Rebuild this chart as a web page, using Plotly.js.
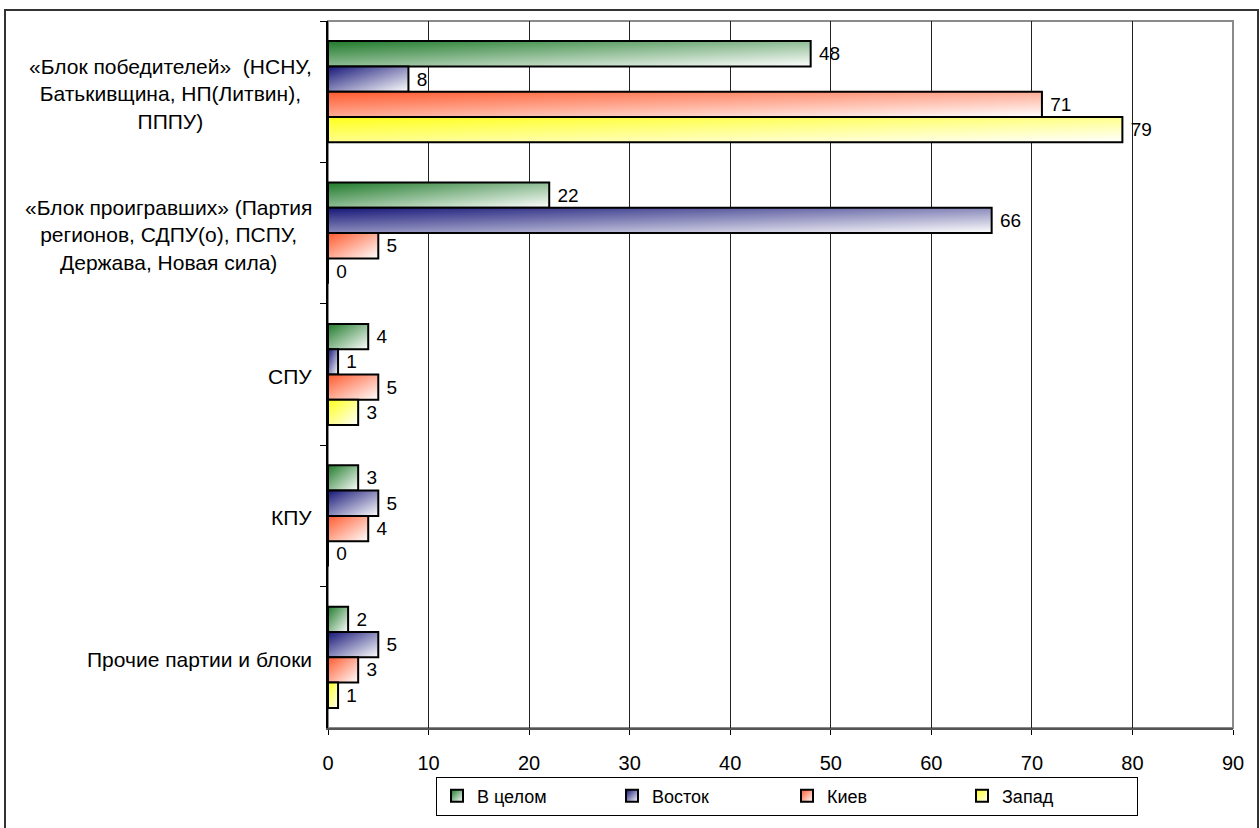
<!DOCTYPE html>
<html>
<head>
<meta charset="utf-8">
<script src="https://cdn.plot.ly/plotly-3.0.1.min.js"></script>
<style>
  html, body { margin: 0; padding: 0; background: #fff; }
  #chart { width: 1260px; height: 828px; }
  #gradsvg { position: absolute; left: 0; top: 0; width: 0; height: 0; overflow: hidden; }
  .barlayer .trace:nth-child(1) .point path { fill: url(#bargrad0) !important; }
  .barlayer .trace:nth-child(2) .point path { fill: url(#bargrad1) !important; }
  .barlayer .trace:nth-child(3) .point path { fill: url(#bargrad2) !important; }
  .barlayer .trace:nth-child(4) .point path { fill: url(#bargrad3) !important; }
  .legend [data-gi="0"] .legendpoints path { fill: url(#bargrad0) !important; }
  .legend [data-gi="1"] .legendpoints path { fill: url(#bargrad1) !important; }
  .legend [data-gi="2"] .legendpoints path { fill: url(#bargrad2) !important; }
  .legend [data-gi="3"] .legendpoints path { fill: url(#bargrad3) !important; }
</style>
</head>
<body>
<svg id="gradsvg" xmlns="http://www.w3.org/2000/svg"><defs id="gradDefs"></defs></svg>
<div id="chart"></div>
<script>
// ---- data ----
const categoryLines = [
  ["«Блок победителей»\u00a0 (НСНУ,", "Батькивщина, НП(Литвин),", "ПППУ)"],
  ["«Блок проигравших» (Партия", "регионов, СДПУ(о), ПСПУ,", "Держава, Новая сила)"],
  ["СПУ"],
  ["КПУ"],
  ["Прочие партии и блоки"]
];
const categories = categoryLines.map(l => l.join(" "));
const seriesNames = ["В целом", "Восток", "Киев", "Запад"];
const valuesTotal = [48, 22, 4, 3, 2];
const valuesEast  = [8, 66, 1, 5, 5];
const valuesKiev  = [71, 5, 5, 4, 3];
const valuesWest  = [79, 0, 3, 0, 1];
const xTicks = [0, 10, 20, 30, 40, 50, 60, 70, 80, 90];

// ---- style ----
const gradColors = ["#1f7a2a", "#161678", "#ff5a2e", "#ffff1a"];
const flatColors = ["#8fbf95", "#8c8cc0", "#ffad96", "#ffff8c"];
const font = "Liberation Sans, Arial, sans-serif";

// gradient definitions (document-level)
(function () {
  const svgNS = "http://www.w3.org/2000/svg";
  const defs = document.getElementById("gradDefs");
  gradColors.forEach((c, i) => {
    const lg = document.createElementNS(svgNS, "linearGradient");
    lg.setAttribute("id", "bargrad" + i);
    lg.setAttribute("x1", "0"); lg.setAttribute("y1", "0");
    lg.setAttribute("x2", "1"); lg.setAttribute("y2", "1");
    const s0 = document.createElementNS(svgNS, "stop");
    s0.setAttribute("offset", "0"); s0.setAttribute("stop-color", c);
    const s1 = document.createElementNS(svgNS, "stop");
    s1.setAttribute("offset", "1"); s1.setAttribute("stop-color", "#ffffff");
    lg.appendChild(s0); lg.appendChild(s1);
    defs.appendChild(lg);
  });
})();

const seriesValues = [valuesTotal, valuesEast, valuesKiev, valuesWest];
const traces = seriesValues.map((vals, i) => ({
  type: "bar",
  orientation: "h",
  name: seriesNames[i],
  y: categories,
  x: vals,
  texttemplate: "\u00a0%{x}",
  textposition: "outside",
  constraintext: "none",
  cliponaxis: false,
  textfont: { family: font, size: 19, color: "#000" },
  marker: { color: flatColors[i], line: { color: "#000", width: 2 } },
  hoverinfo: "skip"
}));

const L = 328, R = 27, T = 21, B = 95;
const W = 1260 - L - R, H = 828 - T - B;

const annotations = categoryLines.map((lines, ci) => ({
  xref: "paper", yref: "y",
  x: 0, y: categories[ci],
  xanchor: "right", yanchor: "middle",
  xshift: -14, yshift: -2,
  text: lines.join("<br>"),
  showarrow: false,
  align: "center",
  font: { family: font, size: 21, color: "#000" }
}));

const layout = {
  width: 1260, height: 828,
  margin: { l: L, r: R, t: T, b: B, pad: 0 },
  paper_bgcolor: "#fff",
  plot_bgcolor: "#fff",
  barmode: "group",
  bargap: 0.284,
  bargroupgap: 0,
  font: { family: font, size: 18, color: "#000" },
  xaxis: {
    range: [0, 90],
    tickvals: xTicks,
    ticktext: xTicks.map(String),
    showgrid: true, gridcolor: "#222", gridwidth: 1,
    zeroline: false,
    showline: true, linecolor: "#555", linewidth: 2,
    ticks: "outside", ticklen: 5, tickcolor: "#000", tickwidth: 1,
    ticklabelstandoff: 11,
    tickfont: { family: font, size: 20, color: "#000" },
    fixedrange: true
  },
  yaxis: {
    type: "category",
    autorange: "reversed",
    showgrid: false, zeroline: false,
    showline: true, linecolor: "#000", linewidth: 2,
    ticks: "outside", ticklen: 6, tickcolor: "#000", tickwidth: 1,
    tickson: "boundaries",
    showticklabels: false,
    fixedrange: true
  },
  showlegend: true,
  legend: {
    orientation: "h",
    x: (436 - L) / W, xanchor: "left",
    y: -(782 - (T + H)) / H, yanchor: "top",
    bgcolor: "#fff",
    bordercolor: "#000", borderwidth: 1,
    entrywidth: 130, entrywidthmode: "pixels",
    font: { family: font, size: 18, color: "#000" },
    itemclick: false, itemdoubleclick: false,
    traceorder: "normal"
  },
  shapes: [
    { type: "rect", xref: "paper", yref: "paper", x0: 0, x1: 1, y0: 0, y1: 1,
      line: { color: "#8a8a8a", width: 2 }, layer: "below" },
    { type: "rect", xref: "paper", yref: "paper",
      x0: (5 - L) / W, x1: (1258 - L) / W,
      y0: -(840 - (T + H)) / H, y1: (T + H - 10) / H,
      line: { color: "#333", width: 2 }, fillcolor: "rgba(0,0,0,0)" }
  ],
  annotations: annotations
};

function applyGradients(gd) {
  gd.querySelectorAll(".barlayer .trace").forEach((tr, i) => {
    tr.querySelectorAll(".point path").forEach(p => {
      p.style.setProperty("fill", "url(#bargrad" + i + ")", "important");
    });
  });
  gd.querySelectorAll(".legend .traces").forEach((tr, i) => {
    tr.setAttribute("data-gi", String(i));
    tr.querySelectorAll(".legendpoints path").forEach(p => {
      p.style.setProperty("fill", "url(#bargrad" + i + ")", "important");
    });
  });
}

Plotly.newPlot("chart", traces, layout, { displayModeBar: false, staticPlot: true }).then(gd => {
  applyGradients(gd);
  gd.on && gd.on("plotly_afterplot", () => applyGradients(gd));
  setTimeout(() => applyGradients(gd), 50);
  setTimeout(() => applyGradients(gd), 300);
});
</script>
</body>
</html>
